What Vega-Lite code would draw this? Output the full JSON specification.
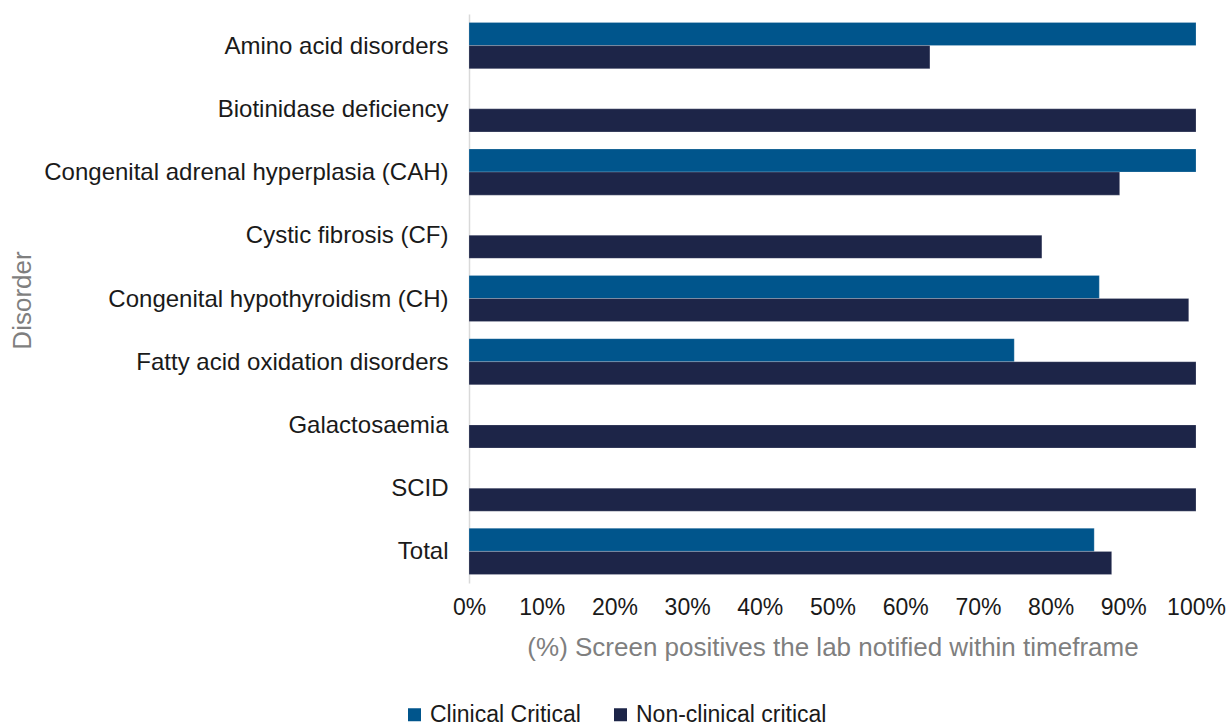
{
  "$schema": "https://vega.github.io/schema/vega-lite/v6.json",
  "width": 727,
  "height": 569,
  "autosize": {"type": "none"},
  "padding": {"left": 469, "top": 14, "right": 33, "bottom": 144},
  "background": "white",
  "config": {
    "view": {"stroke": null},
    "font": "Liberation Sans"
  },
  "data": {
    "values": [
      {"Disorder": "Amino acid disorders", "Series": "Clinical Critical", "Value": 1.0},
      {"Disorder": "Amino acid disorders", "Series": "Non-clinical critical", "Value": 0.634},
      {"Disorder": "Biotinidase deficiency", "Series": "Non-clinical critical", "Value": 1.0},
      {"Disorder": "Congenital adrenal hyperplasia (CAH)", "Series": "Clinical Critical", "Value": 1.0},
      {"Disorder": "Congenital adrenal hyperplasia (CAH)", "Series": "Non-clinical critical", "Value": 0.895},
      {"Disorder": "Cystic fibrosis (CF)", "Series": "Non-clinical critical", "Value": 0.788},
      {"Disorder": "Congenital hypothyroidism (CH)", "Series": "Clinical Critical", "Value": 0.867},
      {"Disorder": "Congenital hypothyroidism (CH)", "Series": "Non-clinical critical", "Value": 0.99},
      {"Disorder": "Fatty acid oxidation disorders", "Series": "Clinical Critical", "Value": 0.75},
      {"Disorder": "Fatty acid oxidation disorders", "Series": "Non-clinical critical", "Value": 1.0},
      {"Disorder": "Galactosaemia", "Series": "Non-clinical critical", "Value": 1.0},
      {"Disorder": "SCID", "Series": "Non-clinical critical", "Value": 1.0},
      {"Disorder": "Total", "Series": "Clinical Critical", "Value": 0.86},
      {"Disorder": "Total", "Series": "Non-clinical critical", "Value": 0.884}
    ]
  },
  "mark": {"type": "bar", "stroke": "#ffffff", "strokeWidth": 0.5, "strokeOpacity": 0.4},
  "encoding": {
    "y": {
      "field": "Disorder",
      "type": "nominal",
      "sort": ["Amino acid disorders", "Biotinidase deficiency", "Congenital adrenal hyperplasia (CAH)", "Cystic fibrosis (CF)", "Congenital hypothyroidism (CH)", "Fatty acid oxidation disorders", "Galactosaemia", "SCID", "Total"],
      "scale": {"paddingInner": 0.27, "paddingOuter": 0.135},
      "axis": {
        "title": "Disorder",
        "titleFont": "Liberation Sans",
        "titleFontSize": 26,
        "titleFontWeight": "normal",
        "titleColor": "#7f7f7f",
        "titleX": -447,
        "titleY": 286,
        "titleAngle": 270,
        "titleAlign": "center",
        "titleBaseline": "middle",
        "labelFont": "Liberation Sans",
        "labelFontSize": 24,
        "labelColor": "#1a1a1a",
        "labelPadding": 21,
        "labelLimit": 500,
        "labelOffset": 1,
        "ticks": false,
        "domainColor": "#d9d9d9",
        "domainWidth": 1.5,
        "grid": false
      }
    },
    "yOffset": {
      "field": "Series",
      "type": "nominal",
      "sort": ["Clinical Critical", "Non-clinical critical"],
      "scale": {"domain": ["Clinical Critical", "Non-clinical critical"], "paddingInner": 0, "paddingOuter": 0}
    },
    "x": {
      "field": "Value",
      "type": "quantitative",
      "scale": {"domain": [0, 1], "nice": false},
      "axis": {
        "title": "(%) Screen positives the lab notified within timeframe",
        "titleFont": "Liberation Sans",
        "titleFontSize": 26,
        "titleFontWeight": "normal",
        "titleColor": "#7f7f7f",
        "titlePadding": 15,
        "format": ".0%",
        "values": [0, 0.1, 0.2, 0.3, 0.4, 0.5, 0.6, 0.7, 0.8, 0.9, 1.0],
        "labelFont": "Liberation Sans",
        "labelFontSize": 23,
        "labelColor": "#1a1a1a",
        "labelPadding": 13,
        "labelFlush": false,
        "labelOverlap": false,
        "ticks": false,
        "domain": false,
        "grid": false
      }
    },
    "color": {
      "field": "Series",
      "type": "nominal",
      "scale": {"domain": ["Clinical Critical", "Non-clinical critical"], "range": ["#00558c", "#1d2548"]},
      "legend": {
        "title": null,
        "orient": "none",
        "direction": "horizontal",
        "legendX": -66,
        "legendY": 689,
        "symbolType": "square",
        "symbolSize": 169,
        "symbolStrokeWidth": 0,
        "labelFont": "Liberation Sans",
        "labelFontSize": 23,
        "labelColor": "#1a1a1a",
        "labelLimit": 400,
        "columnPadding": 28,
        "labelOffset": 4
      }
    }
  }
}
